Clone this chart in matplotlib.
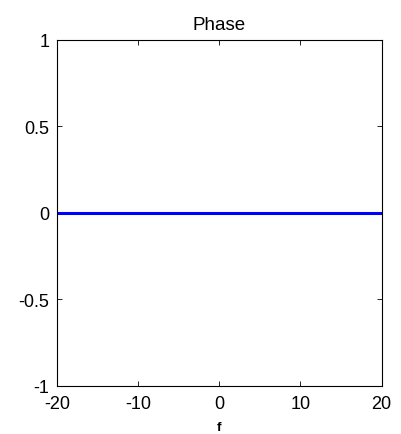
import matplotlib
matplotlib.use("Agg")
import matplotlib.pyplot as plt

plt.rcParams['font.family'] = ['Liberation Sans', 'DejaVu Sans']
plt.rcParams['axes.unicode_minus'] = False

f = [-20, 20]
phase = [0, 0]
xticks = [-20, -10, 0, 10, 20]
yticks = [-1, -0.5, 0, 0.5, 1]
ytick_labels = ['-1', '-0.5', '0', '0.5', '1']

fig = plt.figure(figsize=(4.01, 4.35), dpi=100)
ax = fig.add_axes([57/401, 1-386.7/435, (381.5-57)/401, (386.7-40.7)/435])
ax.plot(f, phase, color='#0000ff', linewidth=2.2)
ax.set_xlim(-20, 20)
ax.set_ylim(-1, 1)
ax.set_xticks(xticks)
ax.set_xticklabels([str(v) for v in xticks])
ax.set_yticks(yticks)
ax.set_yticklabels(ytick_labels)
ax.tick_params(direction='in', top=True, right=True, length=3.5, width=0.6,
               labelsize=13)
ax.tick_params(axis='x', pad=6.5)
ax.tick_params(axis='y', pad=5.5)
for s in ax.spines.values():
    s.set_linewidth(0.8)
ax.set_title('Phase', fontsize=13.5, pad=8)
ax.set_xlabel('f', fontsize=9.5, fontweight='bold', labelpad=7)
fig.savefig('out.png', dpi=100)
